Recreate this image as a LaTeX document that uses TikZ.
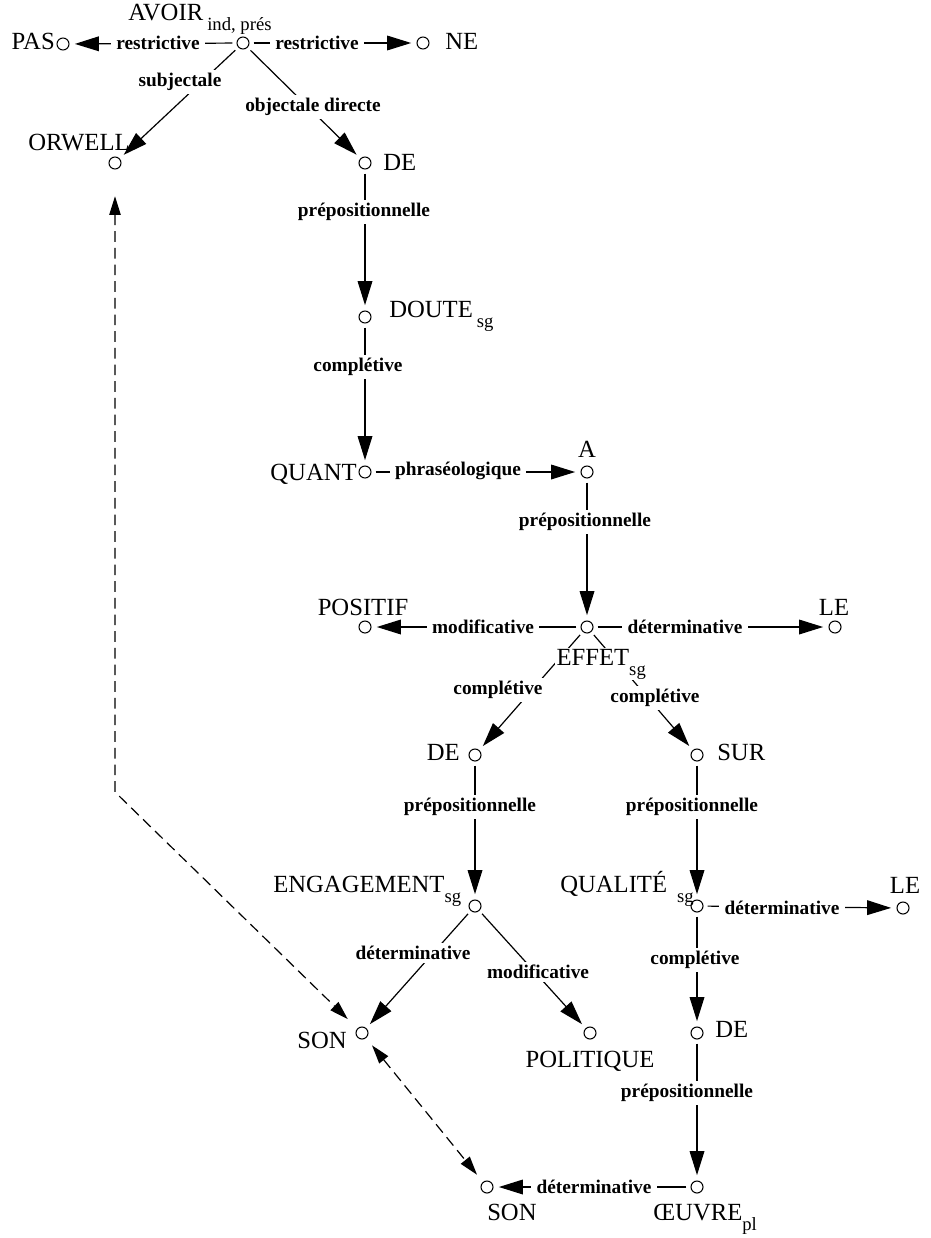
\documentclass[tikz,border=0pt]{standalone}
\usepackage{fontspec}
\setmainfont{Liberation Serif}
\usetikzlibrary{arrows.meta}
\newcommand{\idx}[1]{\raisebox{-7.5pt}{\fontsize{14}{14}\selectfont #1}}

\begin{document}
\begin{tikzpicture}[x=0.75pt, y=-0.75pt,
  vertex/.style={circle, draw, line width=0.8pt, minimum size=9pt, inner sep=0pt},
  word/.style={inner sep=0pt, font=\fontsize{18.5}{20}\selectfont},
  rel/.style={fill=white, inner ysep=2.5pt, inner xsep=4pt, font=\bfseries\fontsize{14.5}{16}\selectfont},
  dep/.style={line width=0.9pt, -{Triangle[length=18pt,width=11pt]}, shorten <=3pt, shorten >=4pt},
  coref/.style={line width=0.9pt, dash pattern=on 8pt off 4.5pt,
    {Triangle[length=14pt,width=8.5pt]}-{Triangle[length=14pt,width=8.5pt]}}]
\useasboundingbox (0,0) rectangle (931,1238);
% vertices
\node[vertex] (vAVOIR) at (243,43){};
\node[vertex] (vPAS) at (63,44){};
\node[vertex] (vNE) at (423,43){};
\node[vertex] (vORWELL) at (115,163){};
\node[vertex] (vDE1) at (365,163){};
\node[vertex] (vDOUTE) at (365,317){};
\node[vertex] (vQUANT) at (365,472){};
\node[vertex] (vA) at (587,472){};
\node[vertex] (vEFFET) at (587,627){};
\node[vertex] (vPOSITIF) at (365,627){};
\node[vertex] (vLE1) at (835,627){};
\node[vertex] (vDE2) at (475,755){};
\node[vertex] (vSUR) at (697,755){};
\node[vertex] (vENG) at (475,906){};
\node[vertex] (vQUAL) at (697,906){};
\node[vertex] (vLE2) at (903,908){};
\node[vertex] (vSON1) at (362,1033){};
\node[vertex] (vPOL) at (590,1033){};
\node[vertex] (vDE3) at (697,1033){};
\node[vertex] (vSON2) at (487,1187){};
\node[vertex] (vOEUV) at (697,1187){};
\coordinate (cBend) at (115,792);
% dependencies
\draw[dep] (vAVOIR) -- (vPAS);
\draw[dep] (vAVOIR) -- (vNE);
\draw[dep] (vAVOIR) -- (vORWELL);
\draw[dep] (vAVOIR) -- (vDE1);
\draw[dep] (vDE1) -- (vDOUTE);
\draw[dep] (vDOUTE) -- (vQUANT);
\draw[dep] (vQUANT) -- (vA);
\draw[dep] (vA) -- (vEFFET);
\draw[dep] (vEFFET) -- (vPOSITIF);
\draw[dep] (vEFFET) -- (vLE1);
\draw[dep] (vEFFET) -- (vDE2);
\draw[dep] (vEFFET) -- (vSUR);
\draw[dep] (vDE2) -- (vENG);
\draw[dep] (vSUR) -- (vQUAL);
\draw[dep] (vQUAL) -- (vLE2);
\draw[dep] (vENG) -- (vSON1);
\draw[dep] (vENG) -- (vPOL);
\draw[dep] (vQUAL) -- (vDE3);
\draw[dep] (vDE3) -- (vOEUV);
\draw[dep] (vOEUV) -- (vSON2);
% coreference
\draw[coref, shorten <=20pt, shorten >=10pt] (vORWELL) -- (cBend) -- (vSON1);
\draw[coref, shorten <=7pt, shorten >=7pt] (vSON1) -- (vSON2);
% relation labels
\node[rel] (lRestrL) at (158,43) {restrictive};
\node[rel] (lRestrR) at (317,43) {restrictive};
\node[rel] (lSubj) at (180,82) {subjectale};
\node[rel] (lObj) at (313,107) {objectale directe};
\node[rel] (lPrep1) at (364,212) {prépositionnelle};
\node[rel] (lCompl1) at (358,367) {complétive};
\node[rel] (lPhras) at (458,471) {phraséologique};
\node[rel] (lPrep2) at (585,522) {prépositionnelle};
\node[rel] (lModif1) at (483,627) {modificative};
\node[rel] (lDeterm1) at (685,627) {déterminative};
\node[rel] (lCompl2) at (498,690) {complétive};
\node[rel] (lCompl3) at (655,698) {complétive};
\node[rel] (lPrep3) at (470,807) {prépositionnelle};
\node[rel] (lPrep4) at (692,807) {prépositionnelle};
\node[rel] (lDeterm2) at (782,908) {déterminative};
\node[rel] (lDeterm3) at (413,953) {déterminative};
\node[rel] (lModif2) at (538,972) {modificative};
\node[rel] (lCompl4) at (695,960) {complétive};
\node[rel] (lPrep5) at (687,1093) {prépositionnelle};
\node[rel] (lDeterm4) at (594,1187) {déterminative};
% words
\node[word, anchor=base west] (wAVOIR) at (128,21) {AVOIR\,\idx{ind, prés}};
\node[word, anchor=base east] (wPAS) at (55,50) {PAS};
\node[word, anchor=base west] (wNE) at (445,50) {NE};
\node[word, anchor=base west] (wORWELL) at (28,150) {ORWELL};
\node[word, anchor=base west] (wDE1) at (383,170) {DE};
\node[word, anchor=base west] (wDOUTE) at (389,317) {DOUTE\,\idx{sg}};
\node[word, anchor=base east] (wQUANT) at (357,480) {QUANT};
\node[word, anchor=base] (wA) at (587,457) {A};
\node[word, anchor=base] (wPOSITIF) at (363,615) {POSITIF};
\node[word, anchor=base] (wLE1) at (834,615) {LE};
\node[word, anchor=base west, fill=white, inner sep=1pt] (wEFFET) at (555,665) {EFFET\idx{sg}};
\node[word, anchor=base east] (wDE2) at (460,760) {DE};
\node[word, anchor=base west] (wSUR) at (717,760) {SUR};
\node[word, anchor=base west] (wENG) at (273,892) {ENGAGEMENT\idx{sg}};
\node[word, anchor=base west] (wQUAL) at (560,892) {QUALITÉ\hspace{7.5pt}\idx{sg}};
\node[word, anchor=base] (wLE2) at (905,893) {LE};
\node[word, anchor=base east] (wSON1) at (347,1048) {SON};
\node[word, anchor=base] (wPOL) at (590,1067) {POLITIQUE};
\node[word, anchor=base west] (wDE3) at (715,1037) {DE};
\node[word, anchor=base west] (wSON2) at (487,1220) {SON};
\node[word, anchor=base west] (wOEUV) at (653,1220) {ŒUVRE\idx{pl}};
\end{tikzpicture}
\end{document}
